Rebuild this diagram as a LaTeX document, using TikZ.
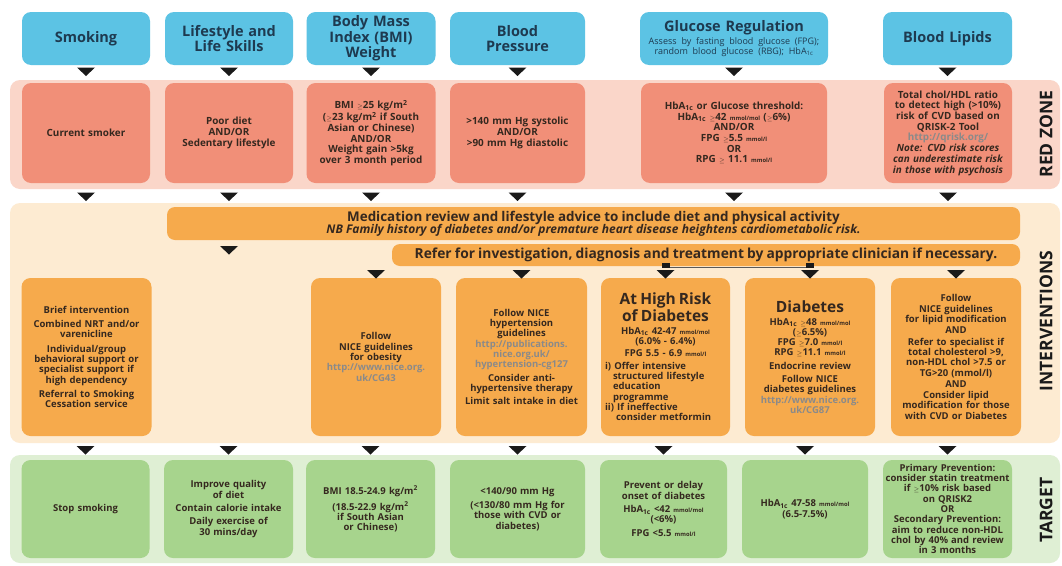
\documentclass[tikz,border=0pt]{standalone}
\usepackage{fontspec}
\setmainfont{Open Sans}
\usetikzlibrary{calc}
\definecolor{hblue}{HTML}{5CC3E4}
\definecolor{hnavy}{HTML}{1E3A50}
\definecolor{redband}{HTML}{FAD6C9}
\definecolor{redbox}{HTML}{F18F78}
\definecolor{intband}{HTML}{FDEBD2}
\definecolor{orbox}{HTML}{F6AA4C}
\definecolor{tgband}{HTML}{DFEFD4}
\definecolor{tgbox}{HTML}{A7D48D}
\definecolor{txt}{HTML}{35281F}
\definecolor{urlg}{HTML}{8A8A8A}
\definecolor{tricol}{HTML}{1A1A1A}
\newcommand\boxfont{\fontsize{9.5}{10.3}\selectfont\bfseries}
\newcommand\redfont{\fontsize{9.9}{10.7}\selectfont\bfseries}
\newcommand\hdrfont{\fontsize{14.5}{15.3}\selectfont\bfseries}
\newcommand\subfont{\fontsize{9}{9.4}\selectfont\mdseries}
\newcommand\bigt{\fontsize{15.5}{15.5}\selectfont\bfseries}
\newcommand\smu[1]{{\fontsize{5.8}{6}\selectfont #1}}
\newcommand\lnk[1]{\textcolor{urlg}{#1}}
\newcommand\hba{HbA\textsubscript{1c}}
\newcommand\gq{\smu{$\geq$}}
\newcommand\dtri[1]{\fill[tricol] #1 ++(-9,0) -- ++(18,0) -- ++(-9,8.5) -- cycle;}
\tikzset{
  base/.style={inner sep=0pt, align=center, font=\boxfont, text=txt},
  hdr/.style={base, fill=hblue, rounded corners=9, font=\hdrfont, text=hnavy, minimum height=53},
  rbox/.style={base, fill=redbox, rounded corners=9, minimum height=100, font=\redfont},
  obox/.style={base, fill=orbox, rounded corners=9, minimum height=158},
  gbox/.style={base, fill=tgbox, rounded corners=9, minimum height=98},
  banner/.style={base, fill=orbox, rounded corners=8},
  zlabel/.style={rotate=90, font=\fontsize{17.5}{17.5}\selectfont\bfseries, text=tricol, inner sep=0pt}
}
\begin{document}
\begin{tikzpicture}[x=1pt,y=-1pt]
\useasboundingbox (0,0) rectangle (1062,565);
\fill[white] (0,0) rectangle (1062,565);
% bands
\fill[redband, rounded corners=10] (10,80) rectangle (1060,189);
\fill[intband, rounded corners=10] (10,203) rectangle (1060,443);
\fill[tgband, rounded corners=10] (10,455) rectangle (1060,563);
\node[zlabel] (lz1) at (1046,134) {RED ZONE};
\node[zlabel] (lz2) at (1046,321) {INTERVENTIONS};
\node[zlabel] (lz3) at (1046,510) {TARGET};

% headers
\node[hdr, minimum width=128, text width=122] (h1) at (86,38.5) {Smoking};
\node[hdr, minimum width=128, text width=122] (h2) at (229,38.5) {Lifestyle and\\Life Skills};
\node[hdr, minimum width=129, text width=123] (h3) at (371,38.5) {Body Mass\\Index (BMI)\\Weight};
\node[hdr, minimum width=135, text width=129] (h4) at (517.5,38.5) {Blood\\Pressure};
\node[hdr, minimum width=188, text width=186] (h5) at (734,38.5) {Glucose Regulation\\[-2pt]{\subfont\begin{tabular}[t]{@{}c@{}}Assess by fasting blood glucose (FPG);\\random blood glucose (RBG); HbA\textsubscript{1c}\end{tabular}}};
\node[hdr, minimum width=129, text width=123] (h6) at (947.5,38.5) {Blood Lipids};

% red zone
\node[rbox, minimum width=128, text width=124] (r1) at (86,133) {Current smoker};
\node[rbox, minimum width=128, text width=124] (r2) at (229,133) {Poor diet\\AND/OR\\Sedentary lifestyle};
\node[rbox, minimum width=129, text width=127] (r3) at (371,133) {BMI \gq25 kg/m\textsuperscript{2}\\(\gq23 kg/m\textsuperscript{2} if South\\Asian or Chinese)\\AND/OR\\Weight gain >5kg\\over 3 month period};
\node[rbox, minimum width=135, text width=131] (r4) at (517.5,133) {>140 mm Hg systolic\\AND/OR\\>90 mm Hg diastolic};
\node[rbox, minimum width=186, text width=180] (r5) at (734,133) {\hba{} or Glucose threshold:\\\hba{} \gq42 \smu{mmol/mol} (\gq6\%)\\AND/OR\\FPG \gq5.5 \smu{mmol/l}\\OR\\RPG \gq{} 11.1 \smu{mmol/l}};
\node[rbox, minimum width=128, text width=127] (r6) at (948,133) {Total chol/HDL ratio\\to detect high (>10\%)\\risk of CVD based on\\QRISK-2 Tool\\\lnk{http://qrisk.org/}\\\itshape Note: CVD risk scores\\\itshape can underestimate risk\\\itshape in those with psychosis};

% interventions banners
\node[banner, minimum width=853, minimum height=33, text width=840] (med) at (593.5,223.5)
  {{\fontsize{13.4}{13}\selectfont\bfseries Medication review and lifestyle advice to include diet and physical activity}\\[-1.5pt]
   {\fontsize{12}{11}\selectfont\bfseries\itshape NB Family history of diabetes and/or premature heart disease heightens cardiometabolic risk.}};
\node[banner, minimum width=628, minimum height=22, text width=624] (ref) at (706,255)
  {\fontsize{13.8}{14}\selectfont\bfseries Refer for investigation, diagnosis and treatment by appropriate clinician if necessary.};

% intervention boxes
\node[obox, minimum width=130, text width=128] (i1) at (86.5,357) {Brief intervention\\[4pt]Combined NRT and/or\\varenicline\\[4pt]Individual/group\\behavioral support or\\specialist support if\\high dependency\\[4pt]Referral to Smoking\\Cessation service};
\node[obox, minimum width=130, text width=128] (i3) at (376,357) {Follow\\NICE guidelines\\for obesity\\\lnk{http://www.nice.org.}\\\lnk{uk/CG43}};
\node[obox, minimum width=131, text width=129] (i4) at (521.5,357) {Follow NICE\\hypertension\\guidelines\\\lnk{http://publications.}\\\lnk{nice.org.uk/}\\\lnk{hypertension-cg127}\\[3pt]Consider anti-\\hypertensive therapy\\[3pt]Limit salt intake in diet};
\node[obox, minimum width=129, text width=127] (i5a) at (665.5,357) {{\bigt\begin{tabular}[b]{@{}c@{}}At High Risk\\of Diabetes\end{tabular}}\\\hba{} 42-47 \smu{mmol/mol}\\(6.0\% - 6.4\%)\\[2pt]FPG 5.5 - 6.9 \smu{mmol/l}\\[2pt]
  \makebox[121pt][l]{i) Offer intensive}\\\makebox[121pt][l]{\hspace{8pt}structured lifestyle}\\\makebox[121pt][l]{\hspace{8pt}education}\\\makebox[121pt][l]{\hspace{8pt}programme}\\\makebox[121pt][l]{ii) If ineffective}\\\makebox[121pt][l]{\hspace{11pt}consider metformin}};
\node[obox, minimum width=130, text width=128] (i5b) at (810,357) {{\bigt\begin{tabular}[b]{@{}c@{}}Diabetes\end{tabular}}\\\hba{} \gq48 \smu{mmol/mol}\\(\gq6.5\%)\\FPG \gq7.0 \smu{mmol/l}\\RPG \gq11.1 \smu{mmol/l}\\[3pt]Endocrine review\\[3pt]Follow NICE\\diabetes guidelines\\\lnk{http://www.nice.org.}\\\lnk{uk/CG87}};
\node[obox, minimum width=130, text width=129] (i6) at (956,357) {Follow\\NICE guidelines\\for lipid modification\\[1pt]AND\\[1pt]Refer to specialist if\\total cholesterol >9,\\non-HDL chol >7.5 or\\TG>20 (mmol/l)\\[1pt]AND\\[1pt]Consider lipid\\modification for those\\with CVD or Diabetes};

% targets
\node[gbox, minimum width=128, text width=124] (t1) at (85.5,509) {Stop smoking};
\node[gbox, minimum width=129, text width=127] (t2) at (228.5,509) {Improve quality\\of diet\\[3pt]Contain calorie intake\\[3pt]Daily exercise of\\30 mins/day};
\node[gbox, minimum width=129, text width=127] (t3) at (370.5,509) {BMI 18.5-24.9 kg/m\textsuperscript{2}\\[4pt](18.5-22.9 kg/m\textsuperscript{2}\\if South Asian\\or Chinese)};
\node[gbox, minimum width=135, text width=131] (t4) at (517.5,509) {<140/90 mm Hg\\[4pt](<130/80 mm Hg for\\those with CVD or\\diabetes)};
\node[gbox, minimum width=127, text width=125] (t5) at (663.5,509) {Prevent or delay\\onset of diabetes\\[3pt]\hba{} <42 \smu{mmol/mol}\\(<6\%)\\[3pt]FPG <5.5 \smu{mmol/l}};
\node[gbox, minimum width=126, text width=124] (t6) at (805,509) {\hba{} 47-58 \smu{mmol/mol}\\(6.5-7.5\%)};
\node[gbox, minimum width=129, text width=128] (t7) at (947.5,509) {Primary Prevention:\\consider statin treatment\\if \gq10\% risk based\\on QRISK2\\OR\\Secondary Prevention:\\aim to reduce non-HDL\\chol by 40\% and review\\in 3 months};

% arrowheads: header -> red zone
\foreach \n in {h1,h2,h3,h4,h5,h6} { \dtri{(\n.south |- 0,67.5)} }
% red zone -> interventions
\foreach \n in {r1,r2,r3,r4,r5,r6} { \dtri{(\n.south |- 0,192.5)} }
% under medication banner (lifestyle column)
\dtri{(r2.south |- 0,246)}
% refer banner -> intervention boxes
\dtri{(i3.north |- 0,270)}
\dtri{(i4.north |- 0,270)}
\dtri{(i6.north |- 0,270)}
\coordinate (ca) at (i5a.north |- ref.south);
\coordinate (cb) at (i5b.north |- ref.south);
\draw[line width=1.4, black!65] ($(ca)+(0,1.5)$) -- ($(cb)+(0,1.5)$);
\fill[tricol] (ca) ++(-4,-3.5) rectangle ++(8,5.5);
\fill[tricol] (cb) ++(-4,-3.5) rectangle ++(8,5.5);
\dtri{(i5a.north |- 0,270)}
\dtri{(i5b.north |- 0,270)}
% interventions -> targets
\foreach \n in {t1,t2,t3,t4,t5,t6,t7} { \dtri{(\n.north |- 0,446)} }
\end{tikzpicture}
\end{document}
